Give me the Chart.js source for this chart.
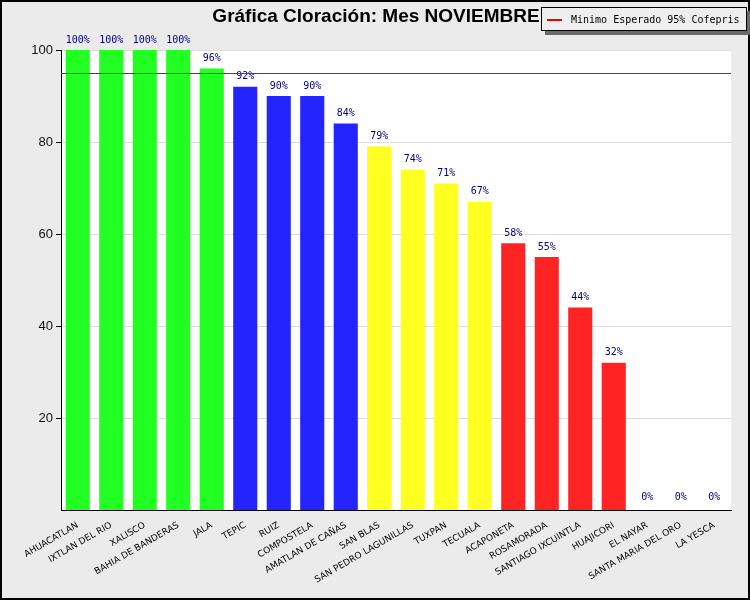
<!DOCTYPE html>
<html lang="es">
<head>
    <meta charset="UTF-8">
    <title>Gráfica Cloración</title>
    <script src="https://cdn.jsdelivr.net/npm/chart.js"></script>
</head>
<body style="margin:0;background:#ebebeb;">
    <div style="width:750px;height:600px;position:relative;">
        <canvas id="chart" width="750" height="600"></canvas>
    </div>
    <script>
        // data
        const municipios = ['AHUACATLAN', 'IXTLAN DEL RIO', 'XALISCO', 'BAHIA DE BANDERAS', 'JALA', 'TEPIC', 'RUIZ',
            'COMPOSTELA', 'AMATLAN DE CAÑAS', 'SAN BLAS', 'SAN PEDRO LAGUNILLAS', 'TUXPAN', 'TECUALA', 'ACAPONETA',
            'ROSAMORADA', 'SANTIAGO IXCUINTLA', 'HUAJICORI', 'EL NAYAR', 'SANTA MARIA DEL ORO', 'LA YESCA'];
        const cloracion = [100, 100, 100, 100, 96, 92, 90, 90, 84, 79, 74, 71, 67, 58, 55, 44, 32, 0, 0, 0];
        const barColors = ['#22ff22', '#22ff22', '#22ff22', '#22ff22', '#22ff22',
            '#2424ff', '#2424ff', '#2424ff', '#2424ff',
            '#ffff22', '#ffff22', '#ffff22', '#ffff22',
            '#ff2424', '#ff2424', '#ff2424', '#ff2424',
            '#ff2424', '#ff2424', '#ff2424'];
        const yTicks = [20, 40, 60, 80, 100];
        const minimoEsperado = 95;
        const titulo = 'Gráfica Cloración: Mes NOVIEMBRE';
        const leyenda = 'Minimo Esperado 95% Cofepris';

        // background, plot area, title, legend box
        const decor = {
            id: 'decor',
            beforeDraw(chart) {
                const c = chart.ctx, a = chart.chartArea;
                c.save();
                c.fillStyle = '#ebebeb';
                c.fillRect(0, 0, chart.width, chart.height);
                c.fillStyle = '#ffffff';
                c.fillRect(a.left, a.top, a.right - a.left, a.bottom - a.top);
                c.strokeStyle = '#000';
                c.lineWidth = 2;
                c.strokeRect(1, 1, chart.width - 2, chart.height - 2);
                c.restore();
            },
            afterDraw(chart) {
                const c = chart.ctx, a = chart.chartArea, y = chart.scales.y;
                c.save();
                // minimum line
                const yy = Math.round(y.getPixelForValue(minimoEsperado)) + 0.5;
                c.strokeStyle = '#ee0000';
                c.lineWidth = 1;
                c.beginPath();
                c.moveTo(a.left, yy);
                c.lineTo(a.right, yy);
                c.stroke();
                // title
                c.fillStyle = '#000';
                c.font = 'bold 19px "Liberation Sans", Arial, sans-serif';
                c.textAlign = 'center';
                c.textBaseline = 'middle';
                c.fillText(titulo, 376, 17);
                // legend box with shadow
                c.fillStyle = '#6a6a6a';
                c.fillRect(545, 11, 206, 24);
                c.fillStyle = '#eeeeee';
                c.fillRect(541, 7, 206, 24);
                c.strokeStyle = '#000';
                c.lineWidth = 1;
                c.strokeRect(541.5, 7.5, 205, 23);
                c.strokeStyle = '#ee0000';
                c.lineWidth = 2;
                c.beginPath();
                c.moveTo(547, 20);
                c.lineTo(562, 20);
                c.stroke();
                c.fillStyle = '#000';
                c.font = '10px "DejaVu Sans Mono", monospace';
                c.textAlign = 'left';
                c.fillText(leyenda, 571, 20);
                c.restore();
            }
        };

        // percentage labels over each bar
        const valueLabels = {
            id: 'valueLabels',
            afterDatasetsDraw(chart) {
                const c = chart.ctx;
                const meta = chart.getDatasetMeta(0);
                c.save();
                c.fillStyle = '#000088';
                c.font = '10px "DejaVu Sans Mono", monospace';
                c.textAlign = 'center';
                c.textBaseline = 'bottom';
                meta.data.forEach((bar, i) => {
                    const v = cloracion[i];
                    c.fillText(v + '%', bar.x, bar.y - (v === 0 ? 8 : 5));
                });
                c.restore();
            }
        };

        new Chart(document.getElementById('chart'), {
            type: 'bar',
            data: {
                labels: municipios,
                datasets: [{
                    data: cloracion,
                    backgroundColor: barColors,
                    borderWidth: 0,
                    barPercentage: 0.72,
                    categoryPercentage: 1
                }]
            },
            options: {
                responsive: false,
                animation: false,
                layout: { padding: { top: 50, right: 19, left: 0, bottom: 0 } },
                plugins: {
                    legend: { display: false },
                    title: { display: false },
                    tooltip: { enabled: false }
                },
                scales: {
                    x: {
                        afterFit: s => { s.height = 90; },
                        grid: { display: false },
                        border: { color: '#000', width: 1 },
                        ticks: {
                            autoSkip: false,
                            minRotation: 30,
                            maxRotation: 30,
                            color: '#000',
                            padding: 2,
                            font: { family: '"DejaVu Sans", sans-serif', size: 9 }
                        }
                    },
                    y: {
                        min: 0,
                        max: 100,
                        afterFit: s => { s.width = 61; },
                        afterBuildTicks: s => { s.ticks = yTicks.map(v => ({ value: v })); },
                        border: { color: '#000', width: 1 },
                        grid: { color: '#dddddd', tickColor: '#000', tickLength: 5 },
                        ticks: {
                            color: '#111',
                            padding: 3,
                            font: { family: '"Liberation Sans", Arial, sans-serif', size: 13 }
                        }
                    }
                }
            },
            plugins: [decor, valueLabels]
        });
    </script>
</body>
</html>
